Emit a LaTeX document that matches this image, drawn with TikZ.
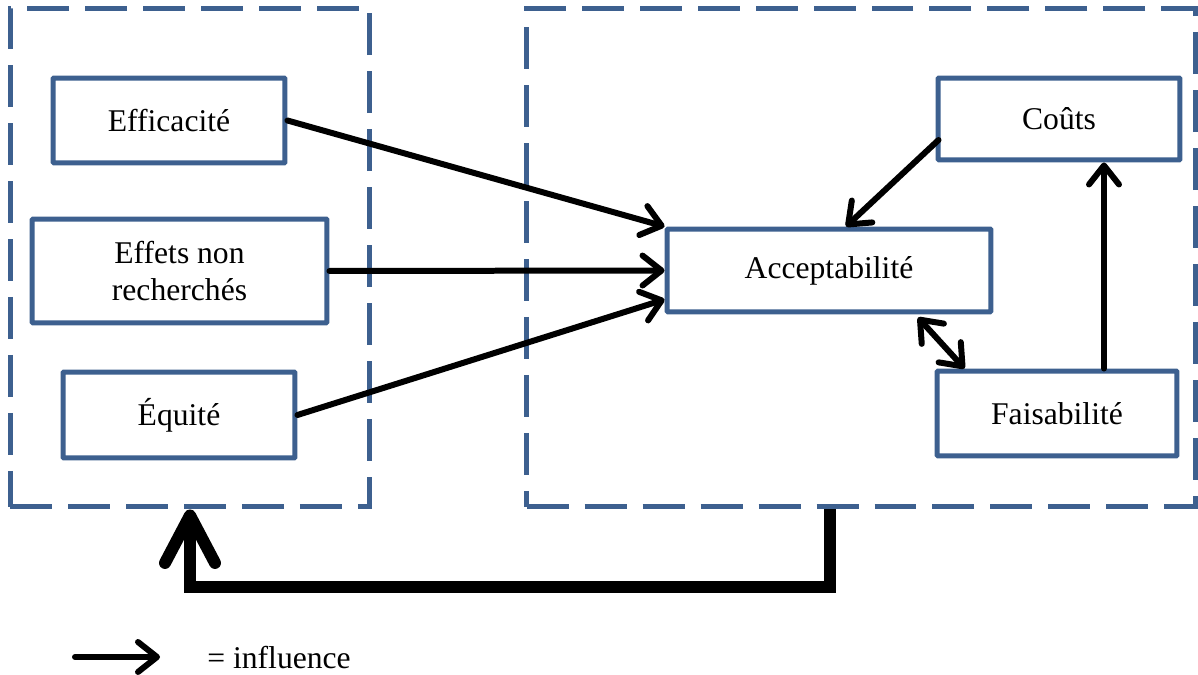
\documentclass[tikz,border=0pt]{standalone}
\usepackage{fontspec}
\setmainfont{Liberation Serif}
\usetikzlibrary{arrows.meta,calc}
\definecolor{bordblue}{RGB}{61,96,143}
\tikzset{
  x=0.02cm, y=-0.02cm,
  box/.style={draw=bordblue, line width=0.1cm, rounded corners=0.02cm, fill=white,
    font=\fontsize{18}{21.5}\selectfont, align=center, inner sep=0pt},
  group/.style={draw=bordblue, line width=0.1cm, dash pattern=on 0.84cm off 0.32cm,
    inner sep=0pt},
  infl/.style={line width=0.12cm, line cap=round,
    -{Straight Barb[length=0.38cm, width=0.6cm, line cap=round, round]}},
  infl2/.style={line width=0.12cm, line cap=round,
    {Straight Barb[length=0.38cm, width=0.6cm, line cap=round, round]}-{Straight Barb[length=0.38cm, width=0.6cm, line cap=round, round]}},
  feedback/.style={line width=0.24cm,
    -{Straight Barb[length=0.95cm, width=1.0cm, line cap=round, round]}},
}
\begin{document}
\begin{tikzpicture}
\useasboundingbox (0,0) rectangle (1198,675);
% groups
\node[group, minimum width=7.2cm, minimum height=9.98cm] (lg) at (190,257.5) {};
\node[group, minimum width=13.38cm, minimum height=9.98cm] (rg) at (861,257.5) {};
% boxes
\node[box, minimum width=4.64cm, minimum height=1.7cm] (eff) at (169,120.5) {Efficacité};
\node[box, minimum width=5.9cm, minimum height=2.08cm] (enr) at (179.5,271) {Effets non\\recherchés};
\node[box, minimum width=4.64cm, minimum height=1.72cm] (equ) at (179,415) {Équité};
\node[box, minimum width=6.48cm, minimum height=1.66cm] (acc) at (829,270.5) {Acceptabilité};
\node[box, minimum width=4.84cm, minimum height=1.64cm] (cou) at (1059,119) {Coûts};
\node[box, minimum width=4.8cm, minimum height=1.7cm] (fai) at (1057,413.5) {Faisabilité};
% influences
\draw[infl] (eff.east) -- (acc.north west);
\draw[infl] (enr.east) -- (acc.west);
\draw[infl] (equ.east) -- ($(acc.south west)+(0,-15)$);
\draw[infl] ($(cou.west)+(3,21)$) -- ($(acc.north)+(17,0)$);
\draw[infl2] ($(acc.south)+(89,3)$) -- ($(fai.north west)+(30,0)$);
\draw[infl] ($(fai.north)+(47,0)$) coordinate (fa) -- (fa |- cou.south);
% feedback
\draw[feedback] ($(rg.south)+(-31,0)$) -- ++(0,78) -| (lg.south);
% legend
\coordinate (la) at (75,657);
\coordinate (lb) at (160,657);
\draw[infl] (la) -- (lb);
\node[font=\fontsize{18}{21.5}\selectfont, anchor=west, inner sep=0pt] (lt) at (207,658) {= influence};
\end{tikzpicture}
\end{document}
